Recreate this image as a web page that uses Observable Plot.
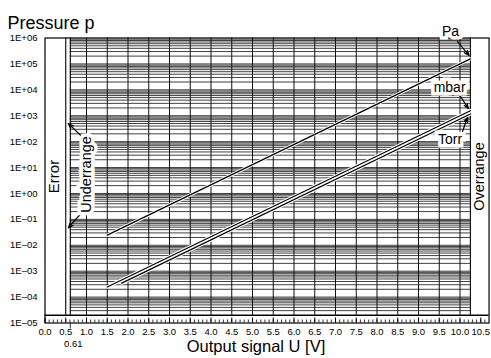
<!DOCTYPE html>
<html>
<head>
<meta charset="utf-8">
<script src="https://cdn.jsdelivr.net/npm/d3@7"></script>
<script src="https://cdn.jsdelivr.net/npm/@observablehq/plot@0.6"></script>
<style>
  body { margin: 0; background: #fff; }
  #chart { width: 491px; height: 358px; }
  #chart svg { display: block; }
</style>
</head>
<body>
<div id="chart"></div>
<script>
// ---- data ----
const paU = [1.5, 10.25];
const paP = [2.45e-2, 1.56e5];
const mbarU = [1.5, 10.25];
const mbarP = [2.45e-4, 1.56e3];
const torrU = [1.85, 10.25];
const torrP = [3.44e-4, 1.17e3];

const yDecades = [1e6, 1e5, 1e4, 1e3, 1e2, 1e1, 1e0, 1e-1, 1e-2, 1e-3, 1e-4, 1e-5];
const yTickLabels = ["1E+06", "1E+05", "1E+04", "1E+03", "1E+02", "1E+01", "1E+00", "1E–01", "1E–02", "1E–03", "1E–04", "1E–05"];
const xTicks = [0, 0.5, 1, 1.5, 2, 2.5, 3, 3.5, 4, 4.5, 5, 5.5, 6, 6.5, 7, 7.5, 8, 8.5, 9, 9.5, 10, 10.5];
const xTickLabels = ["0.0", "0.5", "1.0", "1.5", "2.0", "2.5", "3.0", "3.5", "4.0", "4.5", "5.0", "5.5", "6.0", "6.5", "7.0", "7.5", "8.0", "8.5", "9.0", "9.5", "10.0", "10.5"];

// region bounds (V) and grid bottom (pressure)
const errorEnd = 0.5;
const underrangeEnd = 0.61;
const overrangeStart = 10.25;
const xMax = 10.7;
const gridBottom = 2e-5;

// annotation labels
const unitLabels = ["Pa", "mbar", "Torr"];
const unitLabelX = [9.77, 9.75, 9.76];
const unitLabelY = [1.8e6, 1.2e4, 1.25e2];
const arrowX1 = [9.94, 10.0, 10.06, 0.86, 0.86];
const arrowY1 = [7.3e5, 6.0e3, 2.45e2, 1.75e2, 0.165];
const arrowX2 = [10.22, 10.2, 10.18, 0.56, 0.56];
const arrowY2 = [2.1e5, 1.9e3, 8.5e2, 5.0e2, 0.047];

// ---- derived tables ----
const lineRows = [
  ...paU.map((u, i) => ({unit: "Pa", u, p: paP[i]})),
  ...mbarU.map((u, i) => ({unit: "mbar", u, p: mbarP[i]})),
  ...torrU.map((u, i) => ({unit: "Torr", u, p: torrP[i]}))
];

const hGrid = [];
for (let e = -5; e <= 5; e++) {
  for (let k = 1; k <= 9; k++) {
    const v = k * Math.pow(10, e);
    if (v > gridBottom * 1.01) hGrid.push(v);
  }
}
const vGrid = xTicks.filter(d => d >= 1 && d <= 10);
const minorTicks = d3.range(0, 107).map(i => i / 10);
const majorTicks = xTicks;

const unitRows = unitLabels.map((t, i) => ({t, x: unitLabelX[i], y: unitLabelY[i]}));
const arrowRows = arrowX1.map((x1, i) => ({x1, y1: arrowY1[i], x2: arrowX2[i], y2: arrowY2[i]}));

const font = "'Liberation Sans', Arial, Helvetica, sans-serif";

const chart = Plot.plot({
  width: 491,
  height: 358,
  marginTop: 37.5,
  marginBottom: 35.5,
  marginLeft: 44.5,
  marginRight: 2.45,
  x: {domain: [0, xMax], axis: null},
  y: {type: "log", domain: [1e-5, 1e6], axis: null},
  style: {fontFamily: font, background: "white", color: "black", overflow: "visible"},
  marks: [
    // horizontal log grid
    Plot.ruleY(hGrid, {y: d => d, x1: underrangeEnd, x2: overrangeStart, stroke: "#111", strokeWidth: 0.8}),
    // vertical grid
    Plot.ruleX(vGrid, {x: d => d, y1: gridBottom, y2: 1e6, stroke: "#111", strokeWidth: 1}),
    // region boundaries
    Plot.ruleX([errorEnd, underrangeEnd, overrangeStart], {x: d => d, y1: gridBottom, y2: 1e6, stroke: "black", strokeWidth: 1.1}),
    Plot.ruleY([gridBottom], {y: d => d, x1: 0, x2: xMax, stroke: "black", strokeWidth: 1.6}),
    // bottom axis ticks (inside)
    Plot.ruleX(minorTicks, {x: d => d, y1: 1e-5, y2: 1e-5, insetTop: -3, stroke: "black", strokeWidth: 0.8}),
    Plot.ruleX(majorTicks, {x: d => d, y1: 1e-5, y2: 1e-5, insetTop: -5, stroke: "black", strokeWidth: 1}),
    Plot.ruleX([underrangeEnd], {x: d => d, y1: 1e-5, y2: 1e-5, insetBottom: -6, stroke: "black", strokeWidth: 0.8}),
    Plot.frame({stroke: "black", strokeWidth: 1.2}),
    // data lines with white casing
    Plot.line(lineRows, {x: "u", y: "p", z: "unit", stroke: "white", strokeWidth: 3.2}),
    Plot.line(lineRows, {x: "u", y: "p", z: "unit", stroke: "black", strokeWidth: 1.3}),
    // arrows
    Plot.arrow(arrowRows, {x1: "x1", y1: "y1", x2: "x2", y2: "y2", stroke: "black", strokeWidth: 1.2, headLength: 7, headAngle: 40}),
    // unit labels
    Plot.text(unitRows, {x: "x", y: "y", text: "t", fontSize: 14, fill: "black", stroke: "white", strokeWidth: 7, strokeLinejoin: "miter"}),
    // region labels
    Plot.text(["Error"], {x: 0.23, y: 4.5, text: d => d, rotate: -90, fontSize: 15, fill: "black"}),
    Plot.text(["Overrange"], {x: 10.47, y: 4.5, text: d => d, rotate: -90, fontSize: 14.5, fill: "black"}),
    Plot.text(["Underrange"], {x: 1.0, y: 5.4, text: d => d, rotate: -90, fontSize: 14.5, fill: "black", stroke: "white", strokeWidth: 7, strokeLinejoin: "miter"}),
    // y tick labels
    Plot.text(yDecades, {x: 0, y: d => d, text: (d, i) => yTickLabels[i], dx: -7.5, textAnchor: "end", fontSize: 9.5, fill: "black"}),
    // x tick labels
    Plot.text(xTicks, {x: d => d, y: 1e-5, text: (d, i) => xTickLabels[i], dy: 9, fontSize: 9.5, fill: "black"}),
    Plot.text([underrangeEnd], {x: d => d, y: 1e-5, text: ["0.61"], dx: 3, dy: 20.5, fontSize: 9.5, fill: "black"}),
    // titles
    Plot.text(["Pressure p"], {frameAnchor: "top-left", text: d => d, dx: -37.5, dy: -21.5, textAnchor: "start", fontSize: 18, fill: "black"}),
    Plot.text(["Output signal U [V]"], {frameAnchor: "bottom", text: d => d, dx: -11, dy: 28.5, fontSize: 16.5, fill: "black"})
  ]
});
document.getElementById("chart").append(chart);
</script>
</body>
</html>
